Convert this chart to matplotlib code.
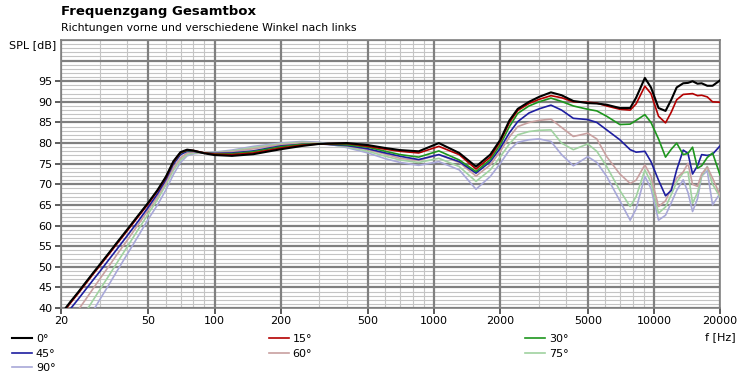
import numpy as np
import matplotlib.pyplot as plt
from matplotlib.ticker import FixedLocator, NullFormatter

# frequency grid (Hz) shared by all curves
freq = [20, 21, 22, 24, 26, 28, 30, 33, 36, 40, 45, 50, 55, 60, 65, 70, 75, 80, 90,
        100, 120, 150, 200, 250, 300, 400, 500, 600, 700, 850, 1050, 1300, 1550,
        1800, 2000, 2200, 2400, 2700, 3000, 3400, 3800, 4300, 5000, 5500, 6100,
        7000, 7800, 8300, 9100, 9700, 10500, 11300, 12000, 12700, 13600, 14300,
        15000, 15800, 16500, 17500, 18500, 20000]

spl_0 = [38.5, 40.0, 41.4, 43.9, 46.3, 48.5, 50.5, 53.3, 55.9, 59.0, 62.5, 65.6, 68.6,
         71.8, 75.6, 77.8, 78.4, 78.2, 77.5, 77.1, 76.9, 77.3, 78.5, 79.3, 79.8, 80.0,
         79.5, 78.8, 78.3, 78.0, 80.0, 77.6, 74.3, 77.2, 80.8, 85.5, 88.3, 90.0, 91.2,
         92.3, 91.6, 90.2, 89.7, 89.6, 89.3, 88.5, 88.5, 91.0, 95.8, 93.5, 88.5, 87.8,
         90.5, 93.5, 94.5, 94.6, 95.0, 94.4, 94.5, 93.9, 93.9, 95.2]
spl_15 = [38.2, 39.7, 41.1, 43.6, 46.0, 48.2, 50.2, 53.0, 55.6, 58.7, 62.2, 65.3, 68.4,
          71.6, 75.4, 77.7, 78.3, 78.2, 77.6, 77.3, 77.2, 77.6, 78.8, 79.5, 79.8, 79.9,
          79.2, 78.5, 78.0, 77.6, 79.2, 77.2, 73.7, 76.6, 80.4, 85.0, 87.9, 89.6, 90.6,
          91.5, 91.0, 90.0, 89.9, 89.7, 89.0, 88.2, 88.0, 89.5, 93.8, 92.0, 86.5, 84.9,
          87.5, 90.5, 91.8, 91.9, 92.0, 91.5, 91.6, 91.2, 90.0, 89.9]
spl_30 = [38.4, 39.9, 41.3, 43.8, 46.2, 48.4, 50.4, 53.2, 55.8, 58.9, 62.4, 65.5, 68.5,
          71.7, 75.4, 77.6, 78.2, 78.1, 77.6, 77.4, 77.4, 77.9, 79.1, 79.7, 79.8, 79.6,
          79.0, 78.0, 77.2, 76.6, 78.1, 75.9, 73.1, 76.0, 79.6, 84.0, 87.2, 89.0, 90.0,
          90.9, 90.1, 89.0, 88.2, 87.8, 86.5, 84.5, 84.6, 85.5, 86.9, 85.0, 81.0, 76.6,
          78.5, 80.0, 77.2, 77.5, 79.0, 73.9, 74.5, 76.5, 77.6, 72.3]
spl_45 = [36.8, 38.3, 39.7, 42.2, 44.6, 46.8, 48.8, 51.7, 54.3, 57.5, 61.1, 64.5, 67.7,
          71.1, 74.9, 77.2, 78.0, 78.0, 77.6, 77.5, 77.6, 78.1, 79.3, 79.7, 79.8, 79.4,
          78.6, 77.6, 76.8, 76.0, 77.2, 75.5, 72.7, 75.5, 78.8, 82.5, 85.2, 87.3, 88.3,
          89.2, 88.0, 86.0, 85.7, 85.0, 83.2, 80.8, 78.4, 77.8, 78.0, 75.5, 71.0, 67.2,
          68.5, 73.5, 78.3, 77.5, 72.5, 74.5, 77.2, 77.0, 77.3, 79.3]
spl_60 = [33.6, 35.2, 36.7, 39.6, 42.2, 44.7, 47.0, 50.1, 53.0, 56.4, 60.3, 63.8, 67.0,
          70.4, 74.0, 76.4, 77.6, 77.8, 77.6, 77.6, 77.9, 78.6, 79.6, 80.0, 79.9, 79.3,
          78.4, 77.3, 76.3, 75.8, 77.2, 75.3, 72.0, 74.7, 78.0, 81.5, 84.0, 85.0, 85.5,
          85.8, 83.8, 81.6, 82.4, 81.0, 76.7, 72.5, 70.2, 71.0, 74.7, 72.0, 64.6, 66.0,
          69.0, 71.5, 73.0, 75.1, 70.0, 69.5, 72.5, 74.2, 71.5, 67.4]
spl_75 = [29.6, 31.4, 33.1, 36.3, 39.2, 41.9, 44.4, 47.8, 51.0, 54.8, 59.1, 62.9, 66.3,
          69.8, 73.4, 75.9, 77.2, 77.6, 77.6, 77.7, 78.1, 78.9, 79.8, 80.2, 80.0, 79.1,
          78.0, 76.8, 75.9, 75.3, 76.3, 74.3, 70.7, 73.5, 76.7, 79.8, 82.0, 82.8, 83.1,
          83.2, 80.0, 78.4, 79.8, 78.0, 74.3, 68.5, 64.6, 67.0, 73.5, 70.5, 63.0, 64.5,
          67.5, 70.5, 72.8, 73.0, 65.4, 68.0, 72.0, 74.3, 70.0, 67.0]
spl_90 = [26.4, 28.3, 30.1, 33.4, 36.5, 39.3, 42.0, 45.6, 49.0, 53.0, 57.5, 61.6, 65.0,
          68.6, 72.4, 75.3, 76.9, 77.4, 77.6, 77.8, 78.3, 79.2, 80.0, 80.4, 80.2, 78.9,
          77.6, 76.2, 75.3, 74.6, 75.5, 73.5, 68.8, 71.9, 75.1, 78.3, 80.2, 80.8, 81.0,
          80.4, 77.2, 74.5, 76.7, 75.3, 71.9, 66.0, 61.3, 64.0, 71.9, 69.0, 61.3, 62.5,
          65.5, 68.5, 71.1, 68.0, 63.4, 66.5, 72.0, 73.3, 65.0, 67.8]

labels = ["0°", "15°", "30°", "45°", "60°", "75°", "90°"]
series = [spl_0, spl_15, spl_30, spl_45, spl_60, spl_75, spl_90]
colors = ["#000000", "#b40000", "#1e961e", "#1e1ea0", "#c8a0a0", "#a0d2a0", "#a8a8d8"]
widths = [1.5, 1.2, 1.2, 1.2, 1.2, 1.2, 1.2]

xticks = [20, 50, 100, 200, 500, 1000, 2000, 5000, 10000, 20000]
yticks = [40, 45, 50, 55, 60, 65, 70, 75, 80, 85, 90, 95]

fig = plt.figure(figsize=(7.47, 3.85), dpi=100)
ax = fig.add_axes([61 / 747, 1 - 308 / 385, 659 / 747, 268 / 385])

lines = {}
for lab, y, c, w in reversed(list(zip(labels, series, colors, widths))):
    lines[lab], = ax.plot(freq, y, color=c, lw=w, zorder=3)

ax.set_xscale("log")
ax.set_xlim(20, 20000)
ax.set_ylim(40, 105)

# minor grid: 1-2-..-9 per decade and every 1 dB
minor_x = [m * d for d in (10, 100, 1000, 10000) for m in range(1, 10)
           if 20 <= m * d <= 20000 and m * d not in xticks]
minor_y = [v for v in range(40, 106) if v % 5]
ax.xaxis.set_major_locator(FixedLocator(xticks))
ax.xaxis.set_minor_locator(FixedLocator(minor_x))
ax.xaxis.set_minor_formatter(NullFormatter())
ax.set_xticklabels([str(t) for t in xticks])
ax.yaxis.set_major_locator(FixedLocator(yticks))
ax.yaxis.set_minor_locator(FixedLocator(minor_y))
ax.set_yticklabels([str(t) for t in yticks])

ax.grid(which="minor", color="#c4c4c4", lw=0.8)
ax.set_axisbelow(True)
# major grid drawn on top of the minor one
for xv in xticks:
    ax.axvline(xv, color="#808080", lw=1.6, zorder=1)
for yv in range(40, 106, 5):
    ax.axhline(yv, color="#808080", lw=1.6, zorder=1)

ax.tick_params(which="minor", length=0)
ax.tick_params(which="major", length=4, width=1.2, color="#404040",
               labelsize=8, pad=2)
for s in ax.spines.values():
    s.set_color("#808080")
    s.set_linewidth(1.2)

fig.text(61 / 747, 1 - 12 / 385, "Frequenzgang Gesamtbox", fontsize=9.5,
         fontweight="bold", va="center", ha="left")
fig.text(61 / 747, 1 - 28 / 385, "Richtungen vorne und verschiedene Winkel nach links",
         fontsize=7.8, va="center", ha="left")
fig.text(56 / 747, 1 - 45 / 385, "SPL [dB]", fontsize=8, va="center", ha="right")
fig.text(720 / 747, 1 - 337 / 385, "f [Hz]", fontsize=8, va="center", ha="center")

order = ["0°", "45°", "90°", "15°", "60°", "30°", "75°"]
fig.legend([lines[k] for k in order], order, ncol=3, mode="expand",
           loc="upper left", bbox_to_anchor=(12 / 747, 1 - 334 / 385, 557 / 747, 0.0),
           frameon=False, fontsize=8, handlelength=1.8, handletextpad=0.35,
           borderpad=0, borderaxespad=0, labelspacing=0.42)

fig.savefig("out.png", dpi=100)
